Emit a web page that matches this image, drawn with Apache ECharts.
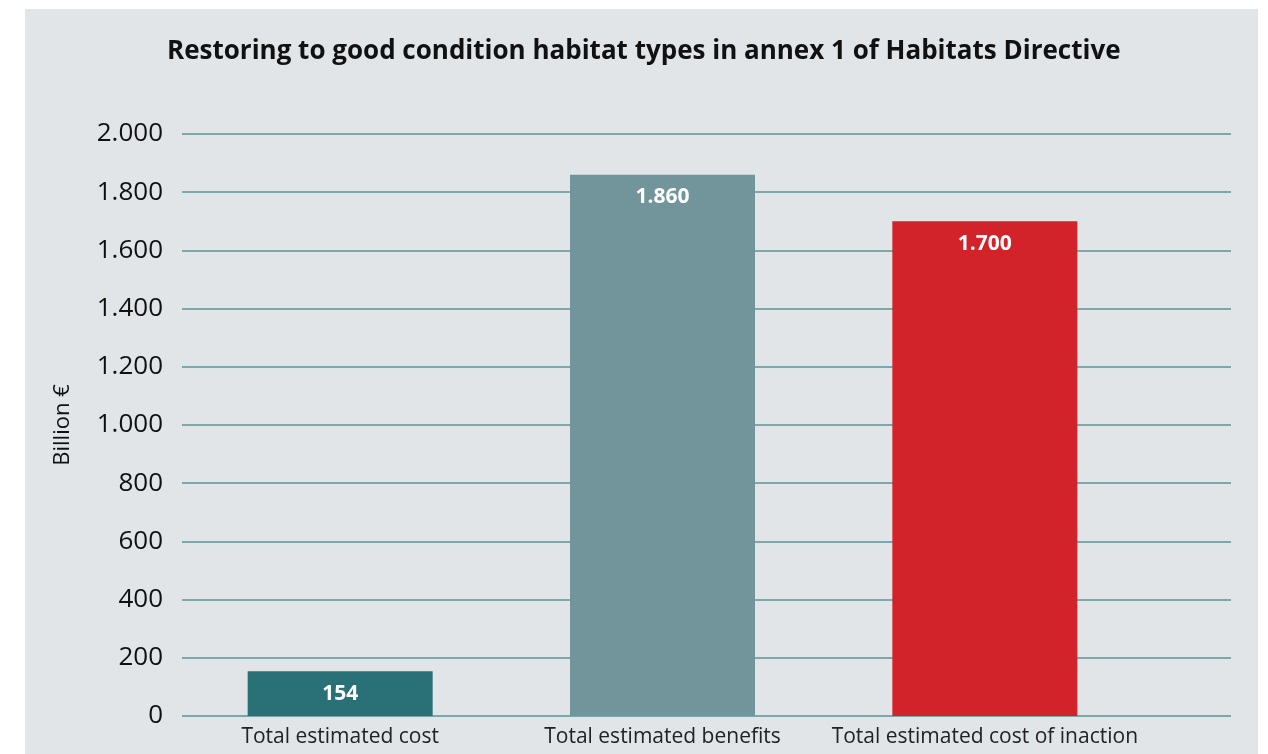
<!DOCTYPE html>
<html>
<head>
<meta charset="utf-8">
<script src="https://cdn.jsdelivr.net/npm/echarts@6/dist/echarts.min.js"></script>
<style>
html,body{margin:0;padding:0;background:#ffffff;}
#chart{width:1268px;height:754px;}
</style>
</head>
<body>
<div id="chart"></div>
<script>
const titleText = 'Restoring to good condition habitat types in annex 1 of Habitats Directive';
const categories = ['Total estimated cost', 'Total estimated benefits', 'Total estimated cost of inaction'];
const values = [154, 1860, 1700];
const barColors = ['#2a7177', '#72959c', '#d2232b'];
const yMin = 0, yMax = 2000, yStep = 200;
const yAxisName = 'Billion €';

function fmt(v){
  return String(v).replace(/\B(?=(\d{3})+(?!\d))/g, '.');
}

const chart = echarts.init(document.getElementById('chart'));
const lineColor = '#5a9399';
chart.setOption({
  animation: false,
  backgroundColor: '#ffffff',
  graphic: [{
    type: 'rect', z: -10, silent: true,
    shape: {x: 25, y: 9, width: 1233, height: 760},
    style: {fill: '#e1e5e8'}
  }],
  title: {
    text: titleText,
    left: 162, top: 34,
    textStyle: {fontFamily: 'Open Sans', fontWeight: 'bold', fontSize: 26, color: '#111111'}
  },
  grid: [
    {left: 182, right: 37, top: 134, bottom: 38},
    {left: 179, width: 967, top: 134, bottom: 38}
  ],
  xAxis: [
    {type: 'value', gridIndex: 0, show: false, min: 0, max: 1},
    {type: 'category', gridIndex: 1, data: categories,
     axisLine: {show: false}, axisTick: {show: false},
     axisLabel: {interval: 0, fontFamily: 'Open Sans', fontSize: 21, color: '#222222', margin: 11}}
  ],
  yAxis: [
    {type: 'value', gridIndex: 0, min: yMin, max: yMax, interval: yStep,
     name: yAxisName, nameLocation: 'middle', nameGap: 108,
     nameTextStyle: {fontFamily: 'Open Sans', fontSize: 22, color: '#111111'},
     axisLine: {show: false}, axisTick: {show: false},
     axisLabel: {fontFamily: 'Open Sans', fontSize: 26, color: '#111111', margin: 19, formatter: fmt},
     splitLine: {lineStyle: {color: lineColor, width: 1.5}}},
    {type: 'value', gridIndex: 1, min: yMin, max: yMax, interval: yStep, show: false,
     splitLine: {show: false}}
  ],
  series: [{
    type: 'bar',
    xAxisIndex: 1, yAxisIndex: 1,
    barWidth: 185,
    data: values.map((v, i) => ({value: v, itemStyle: {color: barColors[i]}})),
    label: {
      show: true, position: 'insideTop', distance: 12,
      fontFamily: 'Open Sans', fontWeight: 'bold', fontSize: 21, color: '#ffffff',
      formatter: p => fmt(p.value)
    }
  }]
});
</script>
</body>
</html>
